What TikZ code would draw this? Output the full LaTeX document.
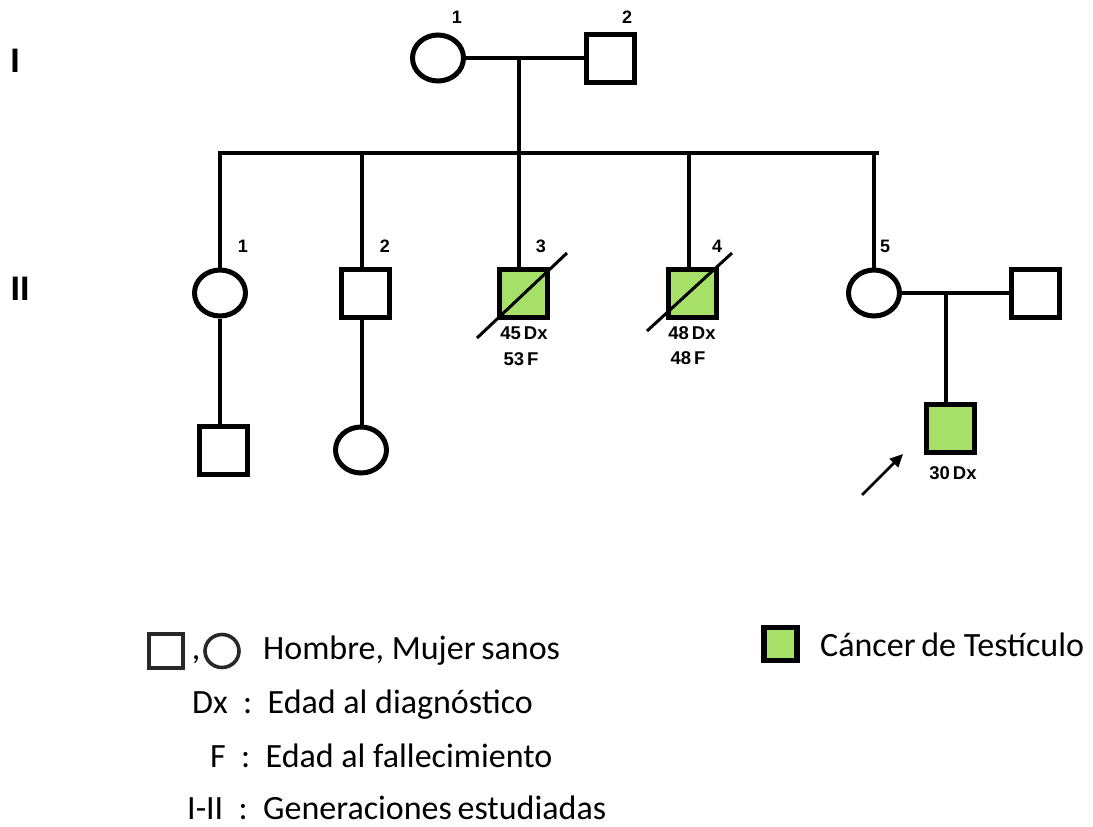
\documentclass[tikz,border=0pt]{standalone}
\usepackage{fontspec}
\setmainfont{Liberation Sans}
\newfontfamily\legfont{Carlito}
\usetikzlibrary{shapes.geometric,arrows.meta}
\definecolor{affected}{RGB}{166,224,104}
\definecolor{legline}{RGB}{40,40,40}
\tikzset{
  male/.style={draw, rectangle, line width=5pt, minimum size=48pt, inner sep=0pt},
  female/.style={draw, ellipse, line width=5pt, minimum width=51pt, minimum height=46pt, inner sep=0pt},
  sick/.style={fill=affected},
  link/.style={line width=3.3pt},
  deceased/.style={line width=3pt},
  idnum/.style={font=\bfseries\fontsize{18}{18}\selectfont, inner sep=0pt},
  age/.style={font=\bfseries\fontsize{18.5}{18.5}\selectfont, inner sep=0pt},
  gen/.style={font=\bfseries\fontsize{34}{34}\selectfont, inner sep=0pt},
  legtext/.style={font=\legfont\fontsize{34}{34}\selectfont, anchor=west, inner sep=0pt},
}
\begin{document}
\begin{tikzpicture}[x=1pt, y=-1pt]
\useasboundingbox (0,0) rectangle (1093,827);

% generation labels
\node[gen] (genI) at (15,61) {I};
\node[gen] (genII) at (20,289) {II};

% generation I
\node[female] (I1) at (438,58) {};
\node[male] (I2) at (610,58) {};
\node[idnum] (nI1) at (457,17) {1};
\node[idnum] (nI2) at (627,17) {2};
\coordinate (m1) at (519,58);
\draw[link] (I1.east) -- (I2.west);

% sibship line
\coordinate (sibL) at (220,153);
\coordinate (sibR) at (879,153);
\draw[link] (m1) -- (m1 |- sibL);
\draw[link] ([xshift=-1.65pt]sibL) -- (sibR);

% generation II
\node[female] (II1) at (220,293) {};
\node[male] (II2) at (365,293) {};
\node[male, sick] (II3) at (523,293) {};
\node[male, sick] (II4) at (692,293) {};
\node[female] (II5) at (874,293) {};
\node[male] (II5s) at (1035,293) {};
\node[idnum] (nII1) at (243,246) {1};
\node[idnum] (nII2) at (385,246) {2};
\node[idnum] (nII3) at (541,246) {3};
\node[idnum] (nII4) at (717,246) {4};
\node[idnum] (nII5) at (885,246) {5};

\coordinate (c1) at (220,153);
\coordinate (c2) at (362,153);
\coordinate (c3) at (519,153);
\coordinate (c4) at (689,153);
\coordinate (c5) at (874,153);
\draw[link] (c1) -- (c1 |- II1.north);
\draw[link] (c2) -- (c2 |- II2.north);
\draw[link] (c3) -- (c3 |- II3.north);
\draw[link] (c4) -- (c4 |- II4.north);
\draw[link] (c5) -- (II5.north);

% deceased marks
\coordinate (d3a) at (477,338);
\coordinate (d3b) at (567,253);
\coordinate (d4a) at (647,331);
\coordinate (d4b) at (732,253);
\draw[deceased] (d3a) -- (d3b);
\draw[deceased] (d4a) -- (d4b);

\node[age] (a3) at (524,333) {45\,Dx};
\node[age] (f3) at (521,359) {53\,F};
\node[age] (a4) at (692,333) {48\,Dx};
\node[age] (f4) at (688,358) {48\,F};

% couple of II-5
\coordinate (m5) at (946,293);
\draw[link] (II5.east) -- (II5s.west);

% generation III
\node[male] (III1) at (223,450) {};
\node[female] (III2) at (361,450) {};
\node[male, sick] (III3) at (950,428) {};
\node[age] (a5) at (953,473) {30\,Dx};
\draw[link] (II1.south -| 220,0) -- (III1.north -| 220,0);
\draw[link] (II2.south -| 362,0) -- (III2.north -| 362,0);
\draw[link] (m5) -- (m5 |- III3.north);

% proband arrow
\coordinate (arrA) at (862,495);
\coordinate (arrB) at (903,454);
\draw[line width=2.6pt, -{Triangle[length=13pt, width=12pt]}] (arrA) -- (arrB);

% legend
\node[draw=legline, rectangle, line width=3.6pt, minimum size=34pt, inner sep=0pt] (lgM) at (166,651) {};
\node[legtext, anchor=center] (lgC) at (196,660) {,};
\node[draw=legline, ellipse, line width=3.6pt, minimum width=34pt, minimum height=33pt, inner sep=0pt] (lgF) at (222,651) {};
\node[legtext] (lgT1) at (263,651) {Hombre, Mujer\,sanos};
\node[legtext] (lgT2) at (192,705) {Dx\ \ :\ \ Edad al diagnóstico};
\node[legtext] (lgT3) at (210,756) {F\ \ :\ \ Edad al fallecimiento};
\node[legtext] (lgT4) at (187,808) {I-II\ \ :\ \ Generaciones\,estudiadas};

\node[draw=black, fill=affected, rectangle, line width=5.5pt, minimum size=33pt, inner sep=0pt] (lgS) at (780.5,644) {};
\node[legtext] (lgT5) at (820,645) {Cáncer\,de Testículo};
\end{tikzpicture}
\end{document}
